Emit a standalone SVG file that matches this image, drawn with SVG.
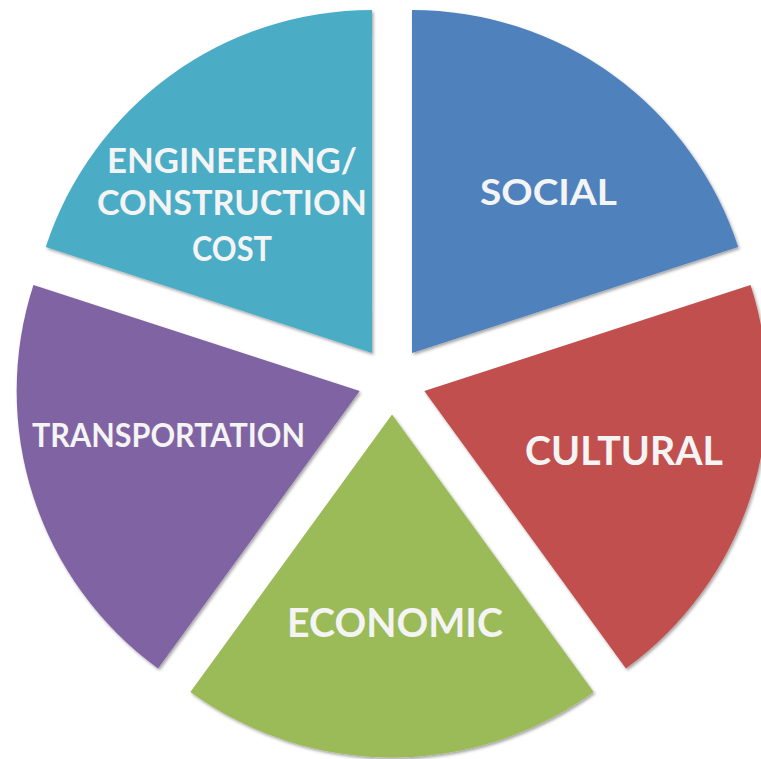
<svg xmlns="http://www.w3.org/2000/svg" width="761" height="759" viewBox="0 0 761 759">
  <defs>
    <filter id="sh" x="-10%" y="-10%" width="120%" height="120%">
      <feDropShadow dx="1.5" dy="2" stdDeviation="1.8" flood-color="#000" flood-opacity="0.35"/>
    </filter>
  </defs>
  <style>
    .slice { filter: url(#sh); }
    .lbl { font-family: Lato, "Open Sans", "Liberation Sans", Arial, sans-serif; font-weight: bold; fill: #F4F4F4; text-anchor: middle; }
  </style>
  <rect width="761" height="759" fill="#FFFFFF"/>
  <g id="connectors"/>
  <g id="social">
    <path class="slice" fill="#4F81BD" d="M411.98,352.99 L411.98,9.99 A343,343 0 0 1 738.2,247.0 Z"/>
    <text class="lbl" x="548.5" y="205" font-size="37" textLength="137" lengthAdjust="spacingAndGlyphs">SOCIAL</text>
  </g>
  <g id="cultural">
    <path class="slice" fill="#C0504D" d="M424.34,391.01 L750.56,285.02 A343,343 0 0 1 625.95,668.5 Z"/>
    <text class="lbl" x="624" y="465" font-size="41" textLength="198" lengthAdjust="spacingAndGlyphs">CULTURAL</text>
  </g>
  <g id="economic">
    <path class="slice" fill="#9BBB59" d="M392,414.5 L593.61,691.99 A343,343 0 0 1 190.39,691.99 Z"/>
    <text class="lbl" x="395" y="637" font-size="40" textLength="216" lengthAdjust="spacingAndGlyphs">ECONOMIC</text>
  </g>
  <g id="transportation">
    <path class="slice" fill="#8064A2" d="M359.66,391.01 L158.05,668.5 A343,343 0 0 1 33.44,285.02 Z"/>
    <text class="lbl" x="168.5" y="447" font-size="33" textLength="273" lengthAdjust="spacingAndGlyphs">TRANSPORTATION</text>
  </g>
  <g id="engineering">
    <path class="slice" fill="#4BACC6" d="M372.02,352.99 L45.8,247.0 A343,343 0 0 1 372.02,9.99 Z"/>
    <text class="lbl" x="232" y="173" font-size="34" textLength="250" lengthAdjust="spacingAndGlyphs">ENGINEERING/</text>
    <text class="lbl" x="232" y="215" font-size="34" textLength="270" lengthAdjust="spacingAndGlyphs">CONSTRUCTION</text>
    <text class="lbl" x="232" y="261" font-size="35" textLength="80" lengthAdjust="spacingAndGlyphs">COST</text>
  </g>
</svg>
